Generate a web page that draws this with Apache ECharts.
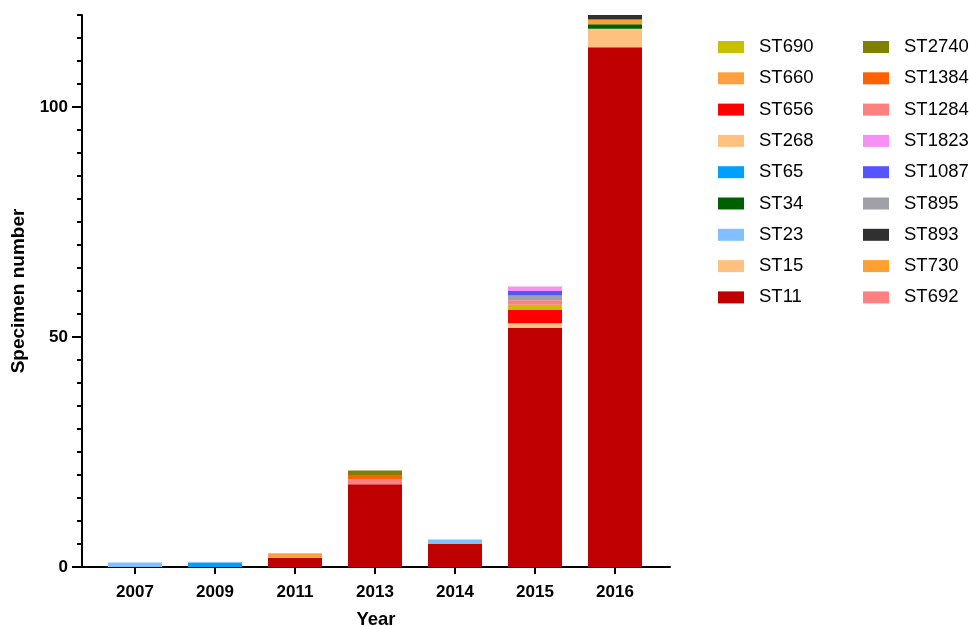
<!DOCTYPE html>
<html>
<head>
<meta charset="utf-8">
<script src="https://cdn.jsdelivr.net/npm/echarts@6/dist/echarts.min.js"></script>
<style>html,body{margin:0;padding:0;background:#fff;}#c{width:969px;height:626px;}</style>
</head>
<body>
<div id="c"></div>
<script>
var years = ['2007', '2009', '2011', '2013', '2014', '2015', '2016'];
var ST11   = [0, 0, 2, 18, 5, 52, 113];
var ST15   = [0, 0, 0, 0, 0, 0, 4];
var ST23   = [1, 0, 0, 0, 1, 0, 0];
var ST34   = [0, 0, 0, 0, 0, 0, 1];
var ST65   = [0, 1, 0, 0, 0, 0, 0];
var ST268  = [0, 0, 0, 0, 0, 1, 0];
var ST656  = [0, 0, 0, 0, 0, 3, 0];
var ST660  = [0, 0, 1, 0, 0, 0, 0];
var ST690  = [0, 0, 0, 0, 0, 1, 0];
var ST692  = [0, 0, 0, 0, 0, 1, 0];
var ST730  = [0, 0, 0, 0, 0, 0, 1];
var ST893  = [0, 0, 0, 0, 0, 0, 1];
var ST895  = [0, 0, 0, 0, 0, 1, 0];
var ST1087 = [0, 0, 0, 0, 0, 1, 0];
var ST1823 = [0, 0, 0, 0, 0, 1, 0];
var ST1284 = [0, 0, 0, 1, 0, 0, 0];
var ST1384 = [0, 0, 0, 1, 0, 0, 0];
var ST2740 = [0, 0, 0, 1, 0, 0, 0];

var yMajorTicks = [0, 50, 100];
var yMinorTicks = [5, 10, 15, 20, 25, 30, 35, 40, 45, 55, 60, 65, 70, 75, 80, 85, 90, 95, 105, 110, 115, 120];

var seriesDefs = [
  ['ST11', ST11, '#C00000'],
  ['ST15', ST15, '#FFC080'],
  ['ST23', ST23, '#80C0FF'],
  ['ST34', ST34, '#006000'],
  ['ST65', ST65, '#00A0FF'],
  ['ST268', ST268, '#FFC080'],
  ['ST656', ST656, '#FF0000'],
  ['ST660', ST660, '#FFA040'],
  ['ST690', ST690, '#C8C000'],
  ['ST692', ST692, '#FF8080'],
  ['ST730', ST730, '#FFA030'],
  ['ST893', ST893, '#303030'],
  ['ST895', ST895, '#A0A0A8'],
  ['ST1087', ST1087, '#5555FF'],
  ['ST1823', ST1823, '#F590F5'],
  ['ST1284', ST1284, '#FF8080'],
  ['ST1384', ST1384, '#FF6000'],
  ['ST2740', ST2740, '#808000']
];
var legendCol1 = ['ST690', 'ST660', 'ST656', 'ST268', 'ST65', 'ST34', 'ST23', 'ST15', 'ST11'];
var legendCol2 = ['ST2740', 'ST1384', 'ST1284', 'ST1823', 'ST1087', 'ST895', 'ST893', 'ST730', 'ST692'];

var series = seriesDefs.map(function (d) {
  return {
    name: d[0],
    type: 'bar',
    stack: 'total',
    xAxisIndex: 1,
    yAxisIndex: 2,
    barWidth: 54,
    itemStyle: { color: d[2] },
    emphasis: { disabled: true },
    data: d[1].map(function (v) { return v ? v : '-'; })
  };
});

var font = 'Arial, "Liberation Sans", sans-serif';
var legendBase = {
  orient: 'vertical',
  icon: 'rect',
  itemWidth: 26,
  itemHeight: 12,
  itemGap: 11.3,
  selectedMode: false,
  textStyle: { fontFamily: font, fontSize: 18.5, color: '#000', lineHeight: 20, padding: [0, 0, 0, 10] }
};

var chart = echarts.init(document.getElementById('c'), null, { renderer: 'canvas' });
chart.setOption({
  animation: false,
  backgroundColor: '#fff',
  grid: [
    { left: 82, right: 299, top: 15, bottom: 59, containLabel: false, outerBoundsMode: 'none' },
    { left: 95, right: 314, top: 15, bottom: 59, containLabel: false, outerBoundsMode: 'none' }
  ],
  legend: [
    Object.assign({}, legendBase, { left: 713, top: 32, data: legendCol1 }),
    Object.assign({}, legendBase, { left: 858, top: 32, data: legendCol2 })
  ],
  xAxis: [
    {
      gridIndex: 0,
      type: 'value',
      min: 0,
      max: 1,
      name: 'Year',
      nameLocation: 'middle',
      nameGap: 43,
      nameTextStyle: { fontFamily: font, fontSize: 18.5, fontWeight: 'bold', color: '#000' },
      axisLine: { show: true, onZero: false, lineStyle: { color: '#000', width: 2 } },
      axisTick: { show: false },
      axisLabel: { show: false },
      splitLine: { show: false }
    },
    {
      gridIndex: 1,
      type: 'category',
      data: years,
      axisLine: { show: false, onZero: false },
      axisTick: { show: true, alignWithLabel: true, interval: 0, length: 7, lineStyle: { color: '#000', width: 2 } },
      axisLabel: { interval: 0, margin: 17, fontFamily: font, fontSize: 17, fontWeight: 'bold', color: '#000' },
      splitLine: { show: false }
    }
  ],
  yAxis: [
    {
      gridIndex: 0,
      type: 'value',
      min: 0,
      max: 120,
      position: 'left',
      name: 'Specimen number',
      nameLocation: 'middle',
      nameGap: 46,
      nameTextStyle: { fontFamily: font, fontSize: 19, fontWeight: 'bold', color: '#000' },
      axisLine: { show: true, onZero: false, lineStyle: { color: '#000', width: 2 } },
      axisTick: { show: true, customValues: yMajorTicks, length: 10, lineStyle: { color: '#000', width: 2 } },
      axisLabel: { customValues: yMajorTicks, margin: 14, fontFamily: font, fontSize: 17, fontWeight: 'bold', color: '#000' },
      splitLine: { show: false }
    },
    {
      gridIndex: 0,
      type: 'value',
      min: 0,
      max: 120,
      position: 'left',
      axisLine: { show: false, onZero: false },
      axisTick: { show: true, customValues: yMinorTicks, length: 5, lineStyle: { color: '#000', width: 2 } },
      axisLabel: { show: false },
      splitLine: { show: false }
    },
    {
      gridIndex: 1,
      type: 'value',
      min: 0,
      max: 120,
      show: false,
      splitLine: { show: false }
    }
  ],
  series: series
});
</script>
</body>
</html>
